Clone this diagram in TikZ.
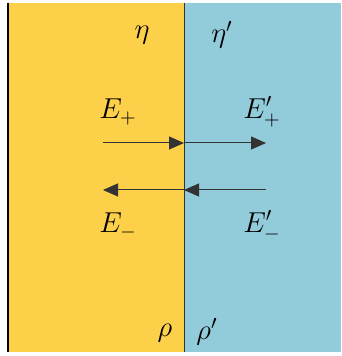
\documentclass[tikz,border=0pt]{standalone}
\usetikzlibrary{arrows.meta}
\definecolor{leftmedium}{RGB}{253,208,74}
\definecolor{rightmedium}{RGB}{146,204,219}
\begin{document}
\begin{tikzpicture}[
  x=0.5pt, y=-0.5pt,
  wave/.style = {-{Triangle[length=7.5pt, width=6.5pt]}, line width=0.5pt, black!80},
  lbl/.style  = {font=\fontsize{14}{17}\selectfont, inner sep=0pt},
]
  \useasboundingbox (0,0) rectangle (341,356);
  \fill[leftmedium]  (8,3)   rectangle (184,352);
  \fill[rightmedium] (184,3) rectangle (341,352);
  \draw[line width=1.2pt] (8,3) -- (8,352);
  \draw[line width=0.5pt, black!80] (184,3) -- (184,352);

  \node[lbl] (eta)  at (142,35)  {$\eta$};
  \node[lbl] (etap) at (222,35)  {$\eta'$};
  \node[lbl] (rho)  at (165,333) {$\rho$};
  \node[lbl] (rhop) at (207,332) {$\rho'$};

  \node[lbl] (Ep)  at (118,112) {$E_+$};
  \node[lbl] (Epp) at (262,112) {$E'_+$};
  \node[lbl] (Em)  at (118,226) {$E_-$};
  \node[lbl] (Emp) at (262,226) {$E'_-$};

  \coordinate (inL)  at (103,143);
  \coordinate (inM)  at (184,143);
  \coordinate (inR)  at (266,143);
  \coordinate (outR) at (266,190);
  \coordinate (outM) at (184,190);
  \coordinate (outL) at (103,190);

  \draw[wave] (inL)  -- (inM);
  \draw[wave] (inM)  -- (inR);
  \draw[wave] (outR) -- (outM);
  \draw[wave] (outM) -- (outL);
\end{tikzpicture}
\end{document}
